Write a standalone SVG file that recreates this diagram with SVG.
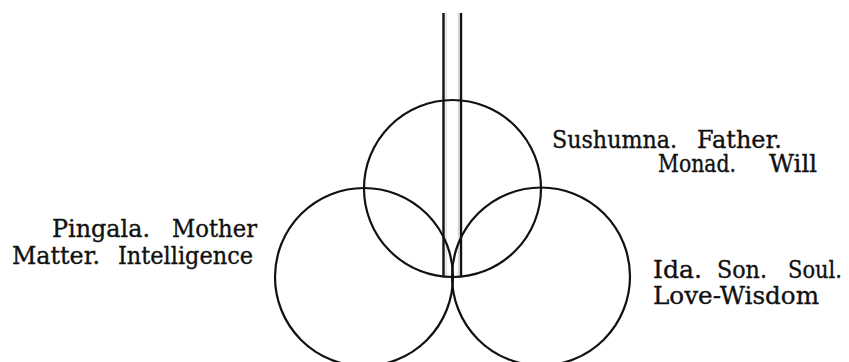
<svg xmlns="http://www.w3.org/2000/svg" width="849" height="362" viewBox="0 0 849 362">
  <style>
    .ring { fill: none; stroke: #111; stroke-width: 2.2; }
    .stem { stroke: #111; stroke-width: 2.4; fill: none; }
    .faint { stroke: #cfcfcf; stroke-width: 1; fill: none; }
    .lbl { font-family: "DejaVu Serif", "Liberation Serif", serif; font-size: 24px; fill: #111; stroke: #111; stroke-width: 0.35; }
  </style>
  <rect width="849" height="362" fill="#fff"/>
  <g id="connectors">
    <g id="channel">
      <line class="stem" x1="443.5" y1="13" x2="443.5" y2="276"/>
      <line class="faint" x1="446.2" y1="13" x2="446.2" y2="276"/>
      <line class="faint" x1="458.3" y1="13" x2="458.3" y2="276"/>
      <line class="stem" x1="461" y1="13" x2="461" y2="276"/>
    </g>
  </g>
  <g id="sushumna">
    <circle class="ring" cx="452.5" cy="188.5" r="88.5"/>
    <text class="lbl" x="552" y="148" textLength="125" lengthAdjust="spacingAndGlyphs">Sushumna.</text>
    <text class="lbl" x="697" y="148" textLength="85" lengthAdjust="spacingAndGlyphs">Father.</text>
    <text class="lbl" x="658" y="172" textLength="78" lengthAdjust="spacingAndGlyphs">Monad.</text>
    <text class="lbl" x="769" y="172" textLength="48" lengthAdjust="spacingAndGlyphs">Will</text>
  </g>
  <g id="pingala">
    <circle class="ring" cx="364" cy="277" r="89"/>
    <text class="lbl" x="52" y="237" textLength="98" lengthAdjust="spacingAndGlyphs">Pingala.</text>
    <text class="lbl" x="172" y="237" textLength="85" lengthAdjust="spacingAndGlyphs">Mother</text>
    <text class="lbl" x="12" y="264" textLength="88" lengthAdjust="spacingAndGlyphs">Matter.</text>
    <text class="lbl" x="118" y="264" textLength="135" lengthAdjust="spacingAndGlyphs">Intelligence</text>
  </g>
  <g id="ida">
    <circle class="ring" cx="541" cy="276.5" r="89"/>
    <text class="lbl" x="653" y="278" textLength="49" lengthAdjust="spacingAndGlyphs">Ida.</text>
    <text class="lbl" x="717" y="278" textLength="50" lengthAdjust="spacingAndGlyphs">Son.</text>
    <text class="lbl" x="788" y="278" textLength="54" lengthAdjust="spacingAndGlyphs">Soul.</text>
    <text class="lbl" x="653" y="304" textLength="166" lengthAdjust="spacingAndGlyphs">Love-Wisdom</text>
  </g>
</svg>
